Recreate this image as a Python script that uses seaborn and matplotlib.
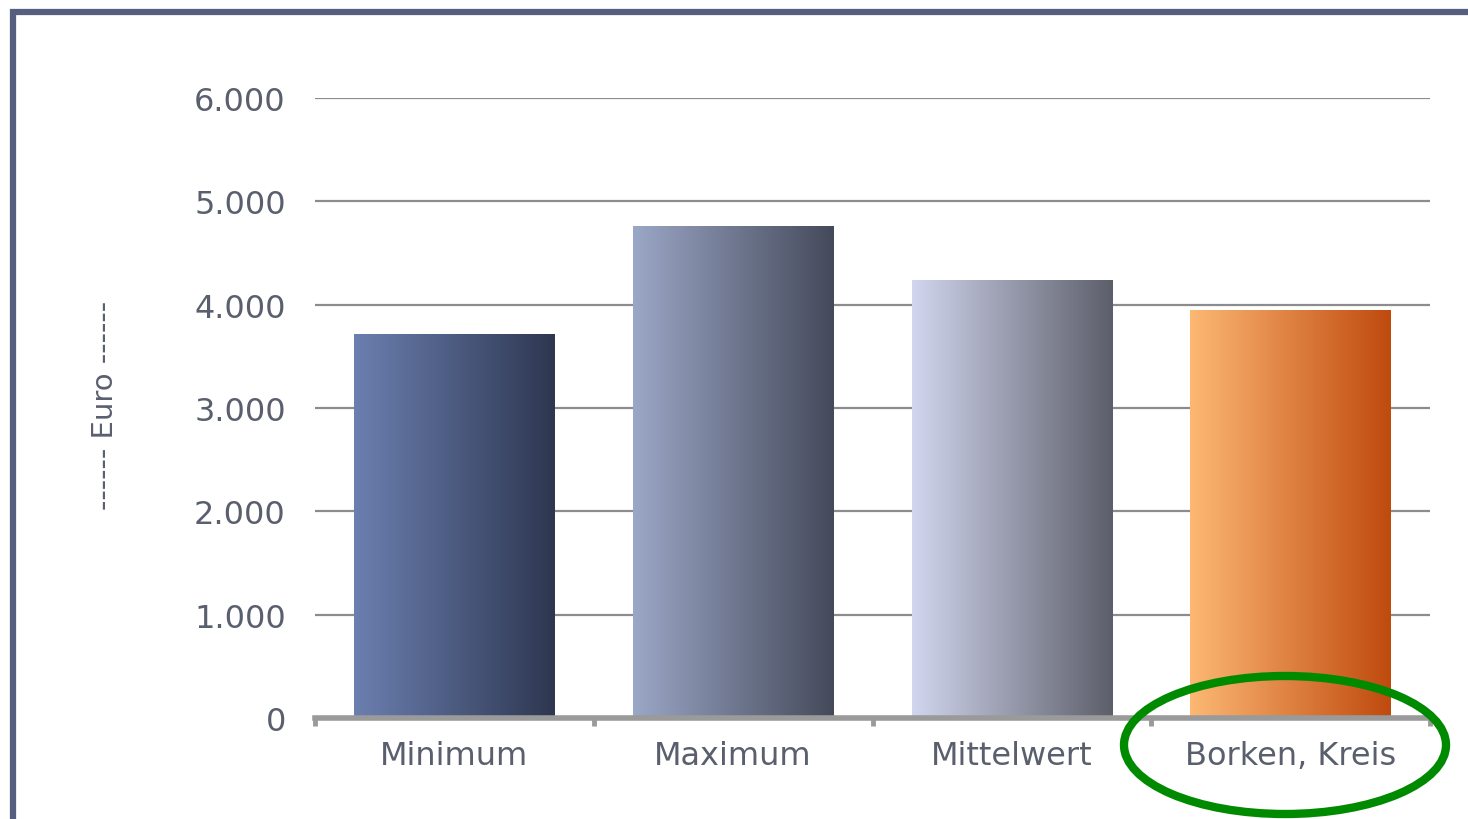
import numpy as np
import pandas as pd
import matplotlib
matplotlib.use("Agg")
import matplotlib.pyplot as plt
from matplotlib.patches import Ellipse
from matplotlib.lines import Line2D
from matplotlib.colors import LinearSegmentedColormap
import seaborn as sns

categories = ["Minimum", "Maximum", "Mittelwert", "Borken, Kreis"]
values = [3720, 4760, 4240, 3950]
ytick_values = [0, 1000, 2000, 3000, 4000, 5000, 6000]
ytick_labels = ["0", "1.000", "2.000", "3.000", "4.000", "5.000", "6.000"]
ylabel = "------ Euro ------"
grad_left = ["#6b7fb0", "#9ba7c7", "#d2d6ee", "#fdb874"]
grad_right = ["#2e3750", "#454a5a", "#5c5e6a", "#bf4a0e"]

sns.set_theme(style="white")
plt.rcParams["font.family"] = ["DejaVu Sans"]

fig = plt.figure(figsize=(14.68, 8.20), dpi=100)
fig.patch.set_facecolor("white")
ax = fig.add_axes([315/1468, 1-719/820, (1430-315)/1468, (719-99)/820])

df = pd.DataFrame({"cat": categories, "val": values})
sns.barplot(data=df, x="cat", y="val", width=0.72, color="#888888", ax=ax, saturation=1)

ax.set_xlim(-0.5, 3.5)
ax.set_ylim(0, 6000)

grad = np.linspace(0, 1, 256).reshape(1, -1)
for i, p in enumerate(ax.patches):
    x0, y0 = p.get_x(), p.get_y()
    w, h = p.get_width(), p.get_height()
    cmap = LinearSegmentedColormap.from_list(f"g{i}", [grad_left[i], grad_right[i]])
    im = ax.imshow(grad, cmap=cmap, extent=[x0, x0+w, y0, y0+h], aspect="auto",
                   interpolation="bilinear", zorder=3)
    im.set_clip_path(p)
    p.set_facecolor("none")
    p.set_edgecolor("none")
ax.set_xlim(-0.5, 3.5)
ax.set_ylim(0, 6000)

ax.set_yticks(ytick_values)
ax.set_yticklabels(ytick_labels)
ax.yaxis.grid(True, color="#8c8c8c", lw=1.6)
ax.set_axisbelow(True)
for s in ["top", "right", "left"]:
    ax.spines[s].set_visible(False)
ax.spines["bottom"].set_color("#9a9a9a")
ax.spines["bottom"].set_linewidth(4)
ax.spines["bottom"].set_zorder(5)

ax.tick_params(axis="y", length=0, pad=21, labelsize=23, labelcolor="#5a5f6e")
ax.tick_params(axis="x", which="major", bottom=True, length=0, pad=16, labelsize=23,
               labelcolor="#5a5f6e")
ax.set_xticks([-0.5, 0.5, 1.5, 2.5, 3.5], minor=True)
ax.tick_params(axis="x", which="minor", bottom=True, length=6, width=3.5,
               color="#9a9a9a", direction="out")
ax.set_xlabel("")
ax.set_ylabel("")

fig.text(105/1468, 1-405/820, ylabel, rotation=90, ha="center", va="center",
         fontsize=21, color="#5a5f6e")

# frame
fig.add_artist(Line2D([10/1468, 1.0], [1-13/820, 1-13/820], transform=fig.transFigure,
                      color="#56607e", lw=4.5, solid_capstyle="butt"))
fig.add_artist(Line2D([13/1468, 13/1468], [0, 1-10/820], transform=fig.transFigure,
                      color="#56607e", lw=4.5, solid_capstyle="butt"))

# green ellipse
fig.add_artist(Ellipse((1285/1468, 1-746/820), 322/1468, 138/820, transform=fig.transFigure,
                       fill=False, edgecolor="#008a00", lw=6))

fig.savefig("out.png", dpi=100, facecolor="white")
